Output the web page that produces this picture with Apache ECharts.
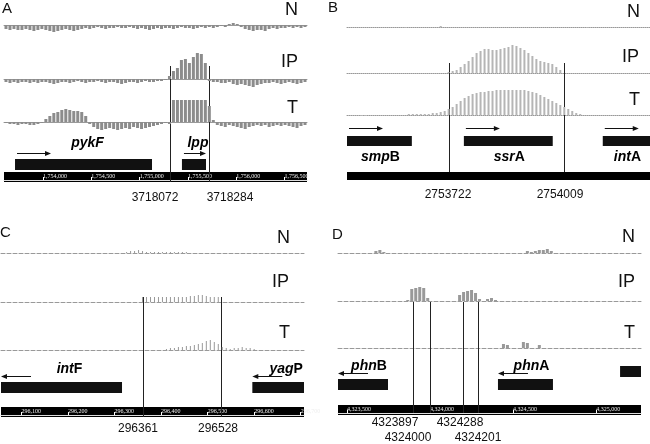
<!DOCTYPE html>
<html>
<head>
<meta charset="utf-8">
<script src="https://cdn.jsdelivr.net/npm/echarts@6/dist/echarts.min.js"></script>
<style>
html, body { margin: 0; background: #fff; }
#chart { width: 650px; height: 444px; }
</style>
</head>
<body>
<div id="chart"></div>
<script>
// signal tracks, 76 bins per panel (N / IP / T)
var trackA_N = [-4,-5,-4,-5,-5,-4,-5,-6,-5,-4, -5,-6,-7,-6,-5,-4,-5,-6,-5,-4, -3,-4,-3,-2,-3,-4,-3,-3,-2,-3,
  -3,-2,-3,-4,-3,-4,-5,-4,-3,-4, -3,-3,-4,-3,-2,-3,-3,-4,-3,-2, -3,-2,-3,-2,-1,-2,1,2,1,-2,
  -4,-5,-6,-5,-5,-6,-4,-3,-4,-3, -3,-2,-3,-2,-3,-2];
var trackA_IP = [-3,-4,-3,-4,-3,-3,-4,-3,-4,-3, -3,-4,-5,-4,-3,-3,-4,-3,-2,-3, -4,-3,-3,-2,-3,-4,-3,-3,-4,-5,
  -4,-3,-3,-4,-3,-2,-3,-3,-2,-2, -1,3,8,11,19,20,16,22,26,25, 16,-2,-3,-3,-4,-4,-3,-5,-6,-5,
  -6,-7,-8,-6,-5,-4,-4,-3,-4,-5, -4,-3,-4,-5,-4,-3];
var trackA_T = [-1,-2,-2,-3,-2,-2,-3,-3,-2,-1, 3,6,9,10,12,13,12,11,11,10, 6,-2,-5,-7,-8,-7,-6,-7,-8,-7,
  -6,-7,-5,-6,-7,-6,-5,-4,-3,-2, -1,-2,22,22,22,22,22,22,22,22, 22,16,2,-3,-4,-5,-3,-4,-5,-6,
  -7,-5,-4,-3,-4,-3,-5,-4,-3,-4, -3,-4,-5,-6,-4,-3];

var trackB_N = [0,0,0,0,0,0,0,0,0,0, 0,0,0,0,-1,0,0,0,0,0, 0,0,0,1,0,0,0,0,0,0,
  0,0,0,0,0,0,0,0,0,0, 0,0,0,0,0,0,0,0,0,0, 0,0,0,0,0,0,0,0,0,0,
  -1,0,0,0,0,0,0,0,0,0, 0,0,0,0,0,0];
var trackB_IP = [0,0,0,0,0,0,0,0,0,0, 0,0,0,0,0,0,0,0,0,0, 0,0,0,0,0,1,2,3,6,9,
  12,16,20,22,24,24,23,23,24,25, 26,28,27,25,23,20,17,14,12,11, 10,9,6,3,0,0,0,0,0,0,
  0,0,0,0,0,0,0,0,0,0, 0,0,0,0,0,0];
var trackB_T = [0,0,0,-1,-1,0,0,0,0,0, 0,0,0,0,0,1,1,1,1,1, 1,2,2,3,4,6,8,11,14,17,
  19,21,22,23,23,24,24,25,25,25, 25,25,25,25,25,24,23,22,20,18, 16,14,12,10,8,6,4,2,1,0,
  0,0,0,0,0,0,0,0,0,0, 0,0,0,0,0,0];

var trackC_N = [0,0,0,0,0,0,0,0,0,0, 0,0,0,0,0,0,0,0,0,0, 0,0,0,0,0,0,0,0,0,0,
  0,1,2,2,3,2,1,1,1,1, 1,1,1,1,1,1,1,0,0,0, 0,0,0,0,0,0,0,0,0,0,
  0,0,0,0,0,0,0,0,0,0, 0,0,0,0,0,0];
var trackC_IP = [0,0,0,0,0,0,0,0,0,0, 0,0,0,0,0,0,0,0,0,0, 0,0,0,0,0,0,0,0,0,0,
  0,0,0,0,0,5,5,5,5,5, 5,5,5,5,5,5,5,6,6,7, 7,6,5,5,5,0,0,0,0,0,
  0,0,0,0,0,0,0,0,0,0, 0,0,0,0,0,0];
var trackC_T = [0,0,0,0,0,0,0,0,0,0, 0,0,0,0,0,0,0,0,0,0, 0,0,0,0,0,0,0,0,0,0,
  0,0,0,0,0,0,0,0,0,0, 0,1,2,2,3,3,4,4,5,6, 7,9,10,8,6,3,2,1,2,2,
  3,2,2,1,0,0,0,0,0,0, 0,0,0,0,0,0];

var trackD_N = [0,0,0,0,0,0,0,0,0,2, 3,1,0,0,0,0,0,0,0,0, 0,0,0,0,0,0,0,0,0,0,
  0,0,0,0,0,0,0,0,0,0, 0,0,0,0,0,0,0,2,1,2, 3,3,4,2,0,0,0,0,0,0,
  0,0,0,0,0,0,0,0,0,0, 0,0,0,0,0,0];
var trackD_IP = [0,0,0,0,0,0,0,0,0,0, 0,0,0,0,0,0,0,1,12,13, 14,13,3,0,0,0,0,0,0,0,
  6,9,10,11,8,2,0,2,3,1, 0,0,0,0,0,0,0,0,0,0, 0,0,0,0,0,0,0,0,0,0,
  0,0,0,0,0,0,0,0,0,0, 0,0,0,0,0,0];
var trackD_T = [0,0,0,0,0,0,0,0,0,0, 0,0,0,0,0,0,0,0,0,0, 0,0,0,0,0,0,0,0,0,0,
  0,0,0,0,0,0,0,0,0,0, 0,4,3,0,0,0,6,5,0,0, 3,0,0,0,0,0,0,0,0,0,
  0,0,0,0,0,0,0,0,0,0, 0,0,0,0,0,0];

// genomic windows and genes: [start, end, strand]
var rangeA = [3717170, 3718820];
var geneNamesA = ['pykF', 'lpp'];
var geneSpansA = [[3717230, 3717976, 1], [3718139, 3718270, 1]];
var boundsA = [3718072, 3718284];

var rangeB = [2753467, 2754224];
var geneNamesB = ['smpB', 'ssrA', 'intA'];
var geneSpansB = [[2753467, 2753629, 1], [2753759, 2753981, 1], [2754106, 2754400, 1]];
var boundsB = [2753722, 2754009];

var rangeC = [296056, 296707];
var geneNamesC = ['intF', 'yagP'];
var geneSpansC = [[296000, 296316, -1], [296596, 296800, -1]];
var boundsC = [296361, 296528];

var rangeD = [4323446, 4325270];
var geneNamesD = ['phnB', 'phnA', ''];
var geneSpansD = [[4323446, 4323747, -1], [4324409, 4324740, -1], [4325144, 4325400, 0]];
var boundsD = [4323897, 4324000, 4324201, 4324288];

// ruler scales under each panel
var rulerRangeA = [1753596, 1756732];
var rulerTicksA = [1754000, 1754500, 1755000, 1755500, 1756000, 1756500];
var rulerTicksC = [296100, 296200, 296300, 296400, 296500, 296600, 296700];
var rulerTicksD = [4323500, 4324000, 4324500, 4325000];

var FONT = '"Liberation Sans", Arial, sans-serif';
var bins = [];
for (var i = 0; i < 76; i++) bins.push(i);

var grids = [], xAxes = [], yAxes = [], series = [];

function addTrack(left, right, baseline, up, values, color, barW, lineType) {
  var down = 10;
  var gi = grids.length;
  grids.push({ left: left, right: right, top: baseline - up, height: up + down, outerBoundsMode: 'none' });
  var xi = xAxes.length, yi = yAxes.length;
  xAxes.push({
    type: 'category', gridIndex: gi, data: bins,
    axisLine: { lineStyle: { color: '#999', width: 1, type: lineType } },
    axisTick: { show: false }, axisLabel: { show: false }
  });
  yAxes.push({ type: 'value', gridIndex: gi, min: -down, max: up, show: false });
  series.push({
    type: 'bar', xAxisIndex: xi, yAxisIndex: yi, data: values,
    barWidth: barW, itemStyle: { color: color }, silent: true
  });
}

function addAnno(left, right, top, h, range) {
  var gi = grids.length;
  grids.push({ left: left, right: right, top: top, height: h, outerBoundsMode: 'none' });
  var xi = xAxes.length, yi = yAxes.length;
  xAxes.push({ type: 'value', gridIndex: gi, min: range[0], max: range[1], show: false });
  yAxes.push({ type: 'value', gridIndex: gi, min: 0, max: h, inverse: true, show: false });
  return [xi, yi];
}

function addRuler(left, right, top, h, range, ticks) {
  var gi = grids.length;
  grids.push({ left: left, right: right, top: top, height: h, show: true,
    backgroundColor: '#000', borderWidth: 0, outerBoundsMode: 'none' });
  var on = ticks.length > 0;
  xAxes.push({
    type: 'value', gridIndex: gi, position: 'top', min: range[0], max: range[1],
    axisLine: { show: false }, axisTick: { show: false }, splitLine: { show: false },
    axisLabel: {
      show: on, inside: true, customValues: ticks, margin: 1, color: '#eee',
      fontSize: 6, fontFamily: '"Liberation Serif", serif', align: 'left',
      formatter: function (v) { return v.toLocaleString('en-US'); }
    }
  });
  xAxes.push({
    type: 'value', gridIndex: gi, position: 'bottom', offset: -2, min: range[0], max: range[1],
    axisLine: { show: on, lineStyle: { color: '#ddd', width: 1 } },
    axisTick: { show: on, inside: true, length: 3, customValues: ticks, lineStyle: { color: '#fff' } },
    axisLabel: { show: false }, splitLine: { show: false }
  });
  yAxes.push({ type: 'value', gridIndex: gi, min: 0, max: 1, show: false });
}

function geneLabel(name, allItalic) {
  var m = /^([a-z]+)(.*)$/.exec(name);
  if (!m || allItalic) return '{i|' + name + '}';
  return '{i|' + m[1] + '}' + (m[2] ? '{b|' + m[2] + '}' : '');
}

function addGenes(axes, names, spans, rows, allItalic) {
  series.push({
    type: 'custom', xAxisIndex: axes[0], yAxisIndex: axes[1], silent: true, clip: false,
    encode: { x: [0, 1] }, data: spans,
    renderItem: function (params, api) {
      var cs = params.coordSys;
      var x0 = Math.max(api.coord([api.value(0), 0])[0], cs.x);
      var x1 = Math.min(api.coord([api.value(1), 0])[0], cs.x + cs.width);
      var strand = api.value(2);
      var yOf = function (v) { return api.coord([api.value(0), v])[1]; };
      var ay = Math.round(yOf(rows.arrow)) + 0.5;
      var kids = [];
      var bt = strand === 0 ? yOf(rows.arrow - 7) : yOf(rows.boxTop);
      kids.push({ type: 'rect', shape: { x: x0, y: bt, width: x1 - x0, height: rows.boxH }, style: { fill: '#111' } });
      if (strand > 0) {
        var a0 = x0 + 2, a1 = a0 + Math.min(34, x1 - x0 - 2);
        kids.push({ type: 'line', shape: { x1: a0, y1: ay, x2: a1 - 5, y2: ay }, style: { stroke: '#111', lineWidth: 1 } });
        kids.push({ type: 'polygon', shape: { points: [[a1, ay], [a1 - 6, ay - 2.5], [a1 - 6, ay + 2.5]] }, style: { fill: '#111' } });
      } else if (strand < 0) {
        kids.push({ type: 'line', shape: { x1: x0 + 5, y1: ay, x2: x0 + 30, y2: ay }, style: { stroke: '#111', lineWidth: 1 } });
        kids.push({ type: 'polygon', shape: { points: [[x0, ay], [x0 + 6, ay - 2.5], [x0 + 6, ay + 2.5]] }, style: { fill: '#111' } });
      }
      var name = names[params.dataIndex];
      if (name) {
        kids.push({
          type: 'text',
          style: {
            text: geneLabel(name, allItalic), x: (x0 + x1) / 2 + rows.dx, y: yOf(rows.label),
            align: 'center', verticalAlign: 'middle',
            rich: {
              i: { fontStyle: 'italic', fontWeight: 'bold', fontSize: 14, fontFamily: FONT, fill: '#000' },
              b: { fontWeight: 'bold', fontSize: 14, fontFamily: FONT, fill: '#000' }
            }
          }
        });
      }
      return { type: 'group', children: kids };
    }
  });
}

function addBounds(axes, bounds, y1, y2) {
  series.push({
    type: 'custom', xAxisIndex: axes[0], yAxisIndex: axes[1], silent: true, clip: false,
    data: bounds.map(function (b) { return [b]; }),
    renderItem: function (params, api) {
      var x = Math.round(api.coord([api.value(0), 0])[0]) + 0.5;
      var p1 = api.coord([api.value(0), y1])[1], p2 = api.coord([api.value(0), y2])[1];
      return { type: 'line', shape: { x1: x, y1: p1, x2: x, y2: p2 }, style: { stroke: '#222', lineWidth: 1 } };
    }
  });
}

// panel A
addTrack(4, 343, 25, 20, trackA_N, '#8c8c8c', 3, 'solid');
addTrack(4, 343, 79, 30, trackA_IP, '#8c8c8c', 3, 'solid');
addTrack(4, 343, 122, 30, trackA_T, '#8c8c8c', 3, 'solid');
var annoA = addAnno(4, 343, 0, 220, rangeA);
addRuler(4, 343, 172, 10, rulerRangeA, rulerTicksA);
addBounds(annoA, boundsA, 66, 182);
addGenes(annoA, geneNamesA, geneSpansA, { label: 143, arrow: 153, boxTop: 159, boxH: 11, dx: 4 }, true);

// panel B
addTrack(347, 0, 27, 20, trackB_N, '#b5b5b5', 2, 'dotted');
addTrack(347, 0, 73, 30, trackB_IP, '#b5b5b5', 2, 'dotted');
addTrack(347, 0, 115, 30, trackB_T, '#b5b5b5', 2, 'dotted');
var annoB = addAnno(347, 0, 0, 220, rangeB);
addRuler(347, 0, 172, 8, rangeB, []);
addBounds(annoB, boundsB, 63, 172);
addGenes(annoB, geneNamesB, geneSpansB, { label: 157, arrow: 128, boxTop: 136, boxH: 10, dx: 1 }, false);

// panel C
addTrack(1, 346, 253, 20, trackC_N, '#999', 1, 'dashed');
addTrack(1, 346, 302, 30, trackC_IP, '#999', 1, 'dashed');
addTrack(1, 346, 350, 30, trackC_T, '#999', 1, 'dashed');
var annoC = addAnno(1, 346, 220, 224, rangeC);
addRuler(1, 346, 407, 10, rangeC, rulerTicksC);
addBounds(annoC, boundsC, 77, 197);
addGenes(annoC, geneNamesC, geneSpansC, { label: 149, arrow: 156, boxTop: 162, boxH: 11, dx: 8 }, false);

// panel D
addTrack(338, 9, 253, 20, trackD_N, '#999', 3, 'dashed');
addTrack(338, 9, 301, 30, trackD_IP, '#999', 3, 'dashed');
addTrack(338, 9, 348, 30, trackD_T, '#999', 3, 'dashed');
var annoD = addAnno(338, 9, 220, 224, rangeD);
addRuler(338, 9, 405, 10, rangeD, rulerTicksD);
addBounds(annoD, boundsD, 82, 193);
addGenes(annoD, geneNamesD, geneSpansD, { label: 146, arrow: 153, boxTop: 159, boxH: 11, dx: 6 }, false);

function txt(s, x, y, size, align) {
  return {
    type: 'text', silent: true, z: 100,
    style: { text: s, x: x, y: y, font: size + 'px ' + FONT, fill: '#111',
      align: align, verticalAlign: 'middle', textAlign: align, textVerticalAlign: 'middle' }
  };
}

var graphics = [
  txt('A', 2, 9, 15, 'left'), txt('B', 328, 8, 15, 'left'),
  txt('C', 0, 233, 15, 'left'), txt('D', 332, 235, 15, 'left'),
  txt('N', 298, 10, 18, 'right'), txt('IP', 298, 62, 18, 'right'), txt('T', 298, 108, 18, 'right'),
  txt('N', 640, 12, 18, 'right'), txt('IP', 639, 57, 18, 'right'), txt('T', 640, 100, 18, 'right'),
  txt('N', 290, 238, 18, 'right'), txt('IP', 289, 282, 18, 'right'), txt('T', 290, 333, 18, 'right'),
  txt('N', 635, 237, 18, 'right'), txt('IP', 635, 282, 18, 'right'), txt('T', 635, 333, 18, 'right'),
  txt(String(boundsA[0]), 155, 198, 12, 'center'), txt(String(boundsA[1]), 230, 198, 12, 'center'),
  txt(String(boundsB[0]), 448, 195, 12, 'center'), txt(String(boundsB[1]), 560, 195, 12, 'center'),
  txt(String(boundsC[0]), 138, 429, 12, 'center'), txt(String(boundsC[1]), 218, 429, 12, 'center'),
  txt(String(boundsD[0]), 395, 423, 12, 'center'), txt(String(boundsD[3]), 460, 423, 12, 'center'),
  txt(String(boundsD[1]), 408, 438, 12, 'center'), txt(String(boundsD[2]), 478, 438, 12, 'center')
];

var chart = echarts.init(document.getElementById('chart'));
chart.setOption({
  animation: false,
  backgroundColor: '#fff',
  grid: grids,
  xAxis: xAxes,
  yAxis: yAxes,
  series: series,
  graphic: graphics
});
</script>
</body>
</html>
